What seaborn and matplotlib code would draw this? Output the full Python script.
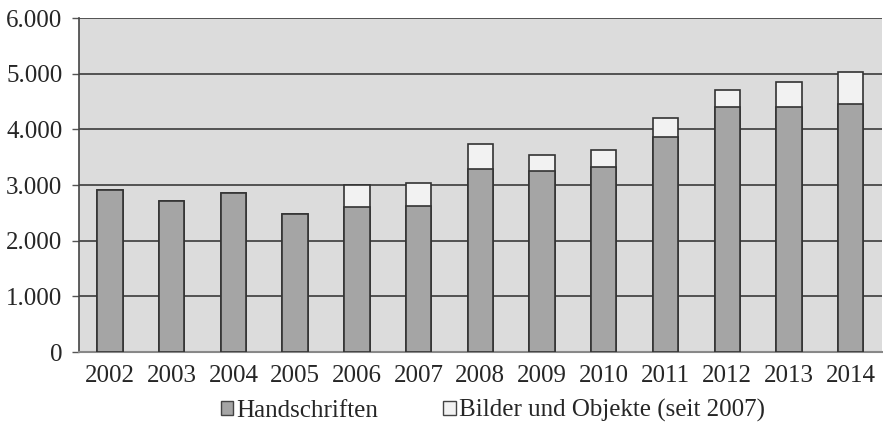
import pandas as pd
import matplotlib.pyplot as plt
import seaborn as sns
from matplotlib.patches import Patch
from matplotlib.ticker import FuncFormatter

years = ['2002', '2003', '2004', '2005', '2006', '2007', '2008',
         '2009', '2010', '2011', '2012', '2013', '2014']
handschriften = [2910, 2715, 2850, 2480, 2605, 2628, 3290,
                 3257, 3317, 3856, 4395, 4395, 4460]
bilder = [0, 0, 0, 0, 395, 413, 440, 283, 311, 347, 305, 455, 564]

df = pd.DataFrame({'Jahr': years, 'Handschriften': handschriften, 'Bilder': bilder})
df['Gesamt'] = df['Handschriften'] + df['Bilder']

sns.set_style('white')
plt.rcParams['font.family'] = ['Liberation Serif', 'DejaVu Serif']

fig = plt.figure(figsize=(8.83, 4.30), dpi=100)
ax = fig.add_axes([0.0895, 0.181, 0.909, 0.777])
ax.set_facecolor('#dcdcdc')

sns.barplot(data=df, x='Jahr', y='Gesamt', color='#f2f2f2', width=0.41,
            edgecolor='#333333', linewidth=1.2, saturation=1, ax=ax, zorder=3)
sns.barplot(data=df, x='Jahr', y='Handschriften', color='#a5a5a5', width=0.41,
            edgecolor='#333333', linewidth=1.2, saturation=1, ax=ax, zorder=3)

ax.set_ylim(0, 6000)
ax.set_xlim(-0.5, len(years) - 0.5)
ax.set_yticks(range(0, 6001, 1000))
ax.yaxis.set_major_formatter(FuncFormatter(lambda v, p: f'{int(v):,}'.replace(',', '.')))
ax.grid(axis='y', color='#3a3a3a', linewidth=1.2, zorder=1)
ax.set_axisbelow(True)
ax.set_xlabel('')
ax.set_ylabel('')

# ticks between categories on x
ax.set_xticks(range(len(years)))
ax.set_xticks([i + 0.5 for i in range(-1, len(years))], minor=True)
ax.tick_params(axis='x', which='major', length=0, labelsize=18, pad=9)
ax.tick_params(axis='x', which='minor', length=5, width=1, color='#777777', direction='out')
ax.tick_params(axis='y', length=5, width=1, color='#555555', labelsize=18, pad=7, left=True)

for side in ['top', 'right']:
    ax.spines[side].set_visible(False)
ax.spines['left'].set_color('#444444')
ax.spines['left'].set_linewidth(1.2)
ax.spines['bottom'].set_color('#888888')
ax.spines['bottom'].set_linewidth(1.5)

handles = [Patch(facecolor='#a5a5a5', edgecolor='#444444', label='Handschriften'),
           Patch(facecolor='#f2f2f2', edgecolor='#444444', label='Bilder und Objekte (seit 2007)')]
fig.legend(handles=handles, loc='center', bbox_to_anchor=(0.558, 0.045), ncol=2,
           frameon=False, fontsize=18, handlelength=0.5, handleheight=0.5,
           handletextpad=0.12, columnspacing=2.6)

fig.savefig('out.png', dpi=100)
